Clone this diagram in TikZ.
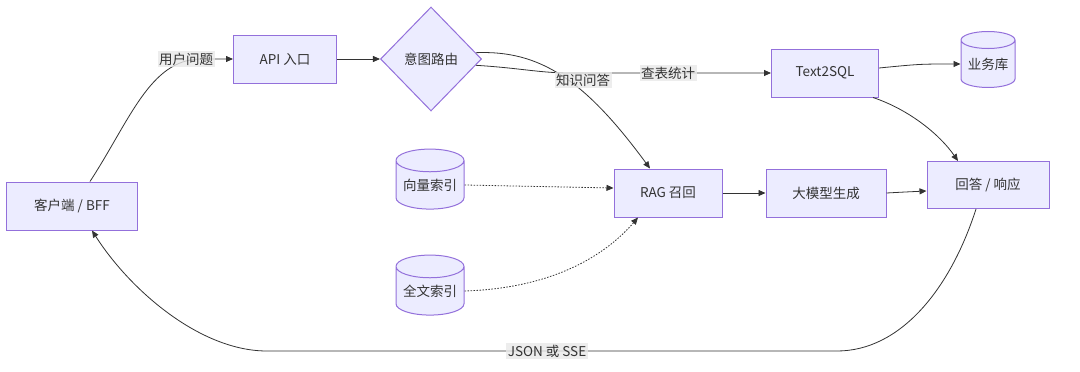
\documentclass[tikz,border=0pt]{standalone}
\usepackage{fontspec}
\setmainfont{Noto Sans CJK SC}
\usetikzlibrary{positioning,arrows.meta,shapes.geometric}
\definecolor{boxfill}{HTML}{ECECFF}
\definecolor{boxline}{HTML}{9370DB}
\definecolor{edgecol}{HTML}{333333}
\definecolor{lblfill}{HTML}{E8E8E8}

\begin{document}
\begin{tikzpicture}[x=1pt, y=-1pt,
  font=\fontsize{13.5}{15}\selectfont, text=edgecol,
  proc/.style={rectangle, draw=boxline, fill=boxfill, line width=1pt,
               minimum width=#1, minimum height=48pt, inner sep=0pt, align=center},
  gate/.style={diamond, draw=boxline, fill=boxfill, line width=1pt,
               minimum width=101pt, minimum height=104pt, inner sep=0pt},
  store/.style={cylinder, shape border rotate=90, aspect=0.42, draw=boxline, fill=boxfill,
                line width=1pt, minimum width=#1, minimum height=60pt, inner sep=0pt},
  lbl/.style={fill=lblfill, fill opacity=0.8, text opacity=1, inner sep=1.5pt},
  ea/.style={-{Triangle[length=7pt,width=6pt]}, line width=0.8pt, draw=edgecol},
  ed/.style={ea, dash pattern=on 1.5pt off 1.5pt}
]
\useasboundingbox (0,0) rectangle (1080,372);

\node[proc=131pt] (client) at (72,206) {客户端 / BFF};
\node[proc=103pt] (api) at (285,59) {API 入口};
\node[gate, right=43pt of api] (router) {意图路由};
\node[proc=107pt] (sql) at (825,73) {Text2SQL};
\node[store=54pt, minimum height=56pt] (biz) at (988,64) {业务库};

\node[store=68pt] (vec) at (430,185) {向量索引};
\node[store=68pt, below=45pt of vec] (fts) {全文索引};
\node[proc=108pt] (rag) at (668,193) {RAG 召回};
\node[proc=120pt, right=43pt of rag] (llm) {大模型生成};
\node[proc=122pt, minimum height=47pt] (ans) at (988,185) {回答 / 响应};

% request path
\draw[ea] ([xshift=18pt]client.north) .. controls (130,120) and (150,60) .. (200,59) -- (api.west);
\draw[ea] (api) -- (router);
\draw[ea] (router.8) .. controls (540,50) and (585,80) .. ([xshift=-18pt]rag.north);
\draw[ea] (router.-8) .. controls (520,68) and (540,73) .. (570,73) -- (sql.west);
\draw[ea] ([yshift=5pt]sql.east) .. controls (920,64) .. (biz.west);
\draw[ea] ([xshift=-6pt]sql.south east) .. controls (910,110) and (940,135) .. ([xshift=-30pt]ans.north);

% retrieval
\draw[ed] (vec.east) -- ([yshift=5pt]rag.west);
\draw[ed] (fts.east) .. controls (560,288) and (610,250) .. ([xshift=-30pt]rag.south);
\draw[ea] (rag) -- (llm);
\draw[ea] (llm.east) .. controls (905,192) .. ([yshift=-6pt]ans.west);

% response back to client
\draw[ea] ([xshift=-12pt]ans.south) .. controls (950,290) and (900,351) .. (837,351)
  -- (267,351) .. controls (200,351) and (130,290) .. ([xshift=20pt]client.south);

\node[lbl] (qlbl) at (186,59) {用户问题};
\node[lbl] (klbl) at (583,80) {知识问答};
\node[lbl] (tlbl) at (668,73) {查表统计};
\node[lbl] (rlbl) at (547,351) {JSON 或 SSE};

\end{tikzpicture}
\end{document}
